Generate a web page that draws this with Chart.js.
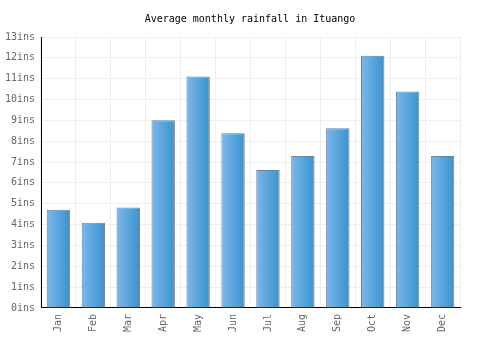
<!DOCTYPE html>
<html><head><meta charset="utf-8">
<script src="https://cdn.jsdelivr.net/npm/chart.js@4/dist/chart.umd.min.js"></script>
<style>html,body{margin:0;padding:0;background:#fff}#wrap{width:500px;height:350px}</style>
</head><body><div id="wrap"><canvas id="c" width="500" height="350"></canvas></div>
<script>
const months = ["Jan","Feb","Mar","Apr","May","Jun","Jul","Aug","Sep","Oct","Nov","Dec"];
const rainfall = [4.71,4.09,4.82,9.0,11.1,8.38,6.62,7.29,8.62,12.1,10.39,7.29];
const chartTitle = "Average monthly rainfall in Ituango";
const unit = "ins";

const gradPlugin = {
  id: 'grad',
  beforeDatasetsDraw(chart) {
    const ctx = chart.ctx;
    chart.getDatasetMeta(0).data.forEach(el => {
      const half = el.width / 2;
      const g = ctx.createLinearGradient(el.x - half, 0, el.x + half, 0);
      g.addColorStop(0, '#7db6ea');
      g.addColorStop(1, '#3794cf');
      el.options = Object.assign({}, el.options, { backgroundColor: g });
    });
  }
};

new Chart(document.getElementById('c'), {
  type: 'bar',
  data: { labels: months, datasets: [{ data: rainfall, backgroundColor: '#5aa5dd', borderColor: '#7f7f7f', borderWidth: 1, barPercentage: 0.67, categoryPercentage: 1.0 }] },
  options: {
    responsive: false, animation: false,
    layout: { padding: { left: 0, right: 0, top: 6, bottom: 12 } },
    plugins: {
      legend: { display: false }, tooltip: { enabled: false },
      title: { display: true, text: chartTitle, color: '#000', font: { family: 'DejaVu Sans Mono', size: 10, weight: 'normal' }, padding: { top: 7, bottom: 12 } }
    },
    scales: {
      x: {
        grid: { color: '#eeeeee', offset: true, drawTicks: false },
        border: { color: '#000', width: 1 },
        ticks: { color: '#666', font: { family: 'DejaVu Sans Mono', size: 10 }, maxRotation: 90, minRotation: 90, padding: 6 }
      },
      y: {
        min: 0, max: 13,
        grid: { color: '#eeeeee', drawTicks: false },
        border: { color: '#000', width: 1 },
        afterFit: s => { s.width = 41; },
        ticks: { stepSize: 1, color: '#666', font: { family: 'DejaVu Sans Mono', size: 10 }, padding: 6, callback: v => v + unit }
      },
      yr: {
        position: 'right', min: 0, max: 13,
        grid: { display: false, drawTicks: false },
        border: { display: false },
        ticks: { display: false },
        afterFit: s => { s.width = 40; }
      }
    }
  },
  plugins: [gradPlugin]
});
</script></body></html>
